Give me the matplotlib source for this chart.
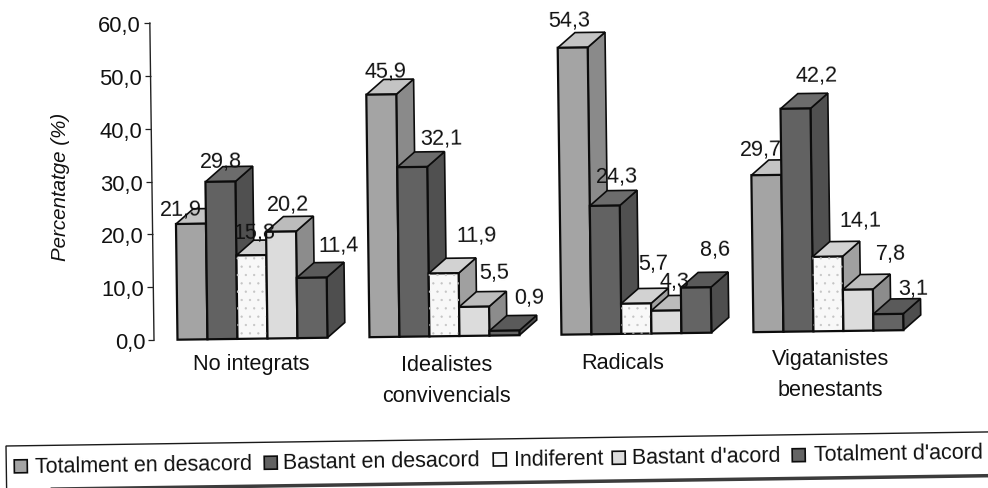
import matplotlib
matplotlib.use("Agg")
import matplotlib.pyplot as plt
from matplotlib.patches import Polygon, Rectangle
from matplotlib.transforms import Affine2D, IdentityTransform

plt.rcParams['font.family'] = ['Liberation Sans', 'DejaVu Sans']
plt.rcParams['hatch.linewidth'] = 0.4

groups = ["No integrats", "Idealistes\nconvivencials", "Radicals", "Vigatanistes\nbenestants"]
series = ["Totalment en desacord", "Bastant en desacord", "Indiferent", "Bastant d'acord", "Totalment d'acord"]
totalment_desacord = [21.9, 45.9, 54.3, 29.7]
bastant_desacord = [29.8, 32.1, 24.3, 42.2]
indiferent = [15.8, 11.9, 5.7, 14.1]
bastant_acord = [20.2, 5.5, 4.3, 7.8]
totalment_acord = [11.4, 0.9, 8.6, 3.1]
values = [totalment_desacord, bastant_desacord, indiferent, bastant_acord, totalment_acord]
y_ticks = [0, 10, 20, 30, 40, 50, 60]

front = ['#a4a4a4', '#626262', '#f8f8f8', '#dcdcdc', '#646464']
top = ['#c4c4c4', '#6c6c6c', '#d2d2d2', '#bcbcbc', '#5a5a5a']
side = ['#8a8a8a', '#505050', '#a0a0a0', '#8c8c8c', '#4e4e4e']
edge = '#0c0c0c'
txt = '#111111'

# value label offsets in pixels from the centre of each bar's front top edge
label_off = [
    [(-10, 15), (4, 23), (-4, 27), (-5, 26)],
    [(0, 20), (29, 29), (12, 29), (21, 33)],
    [(3, 23), (33, 38), (17, 40), (33, 36)],
    [(7, 27), (20, 34), (8, 29), (33, 36)],
    [(27, 32), (25, 33), (19, 38), (25, 26)],
]
group_label_nudge = [(-1, -2), (1.5, -5), (-13.5, -6), (1.5, -4)]

W, H = 988, 489
fig = plt.figure(figsize=(W / 100, H / 100), dpi=100)
px_l, px_r, px_top, px_bot = 154, 960, 24, 341
ax = fig.add_axes([px_l / W, 1 - px_bot / H, (px_r - px_l) / W, (px_bot - px_top) / H])
ax.set_xlim(-0.513, 3.685)
ax.set_ylim(0, 60)
ax.patch.set_visible(False)

# the page was scanned slightly skewed
tilt = 0.75
rot = Affine2D().rotate_deg_around(px_l, H - px_bot, tilt)
tr = ax.transData + rot

bw = 30 / 192
dx = 17.5 / 192
dy = 15 / 5.283

for j, vals in enumerate(values):
    for i, v in enumerate(vals):
        x0 = i + (j - 2.5) * bw
        x1 = x0 + bw
        z = 3 + j * 0.1 + i
        ax.bar(x0, v, width=bw, align='edge', color=front[j], edgecolor=edge, linewidth=1.6,
               transform=tr, zorder=z + 0.02, clip_on=False)
        if j == 2:
            ax.bar(x0, v, width=bw, align='edge', fill=False, edgecolor='#c4c4c4', linewidth=0,
                   hatch='..', transform=tr, zorder=z + 0.03, clip_on=False)
        ax.add_patch(Polygon([(x0, v), (x0 + dx, v + dy), (x1 + dx, v + dy), (x1, v)], closed=True,
                             fc=top[j], ec=edge, lw=1.2, transform=tr, zorder=z + 0.01, clip_on=False))
        ax.add_patch(Polygon([(x1, 0), (x1 + dx, dy), (x1 + dx, v + dy), (x1, v)], closed=True,
                             fc=side[j], ec=edge, lw=1.2, transform=tr, zorder=z, clip_on=False))
        ox, oy = label_off[j][i]
        ax.annotate(f"{v:.1f}".replace('.', ','), (x0 + bw / 2, v), xycoords=tr,
                    xytext=(ox, oy), textcoords='offset pixels', ha='center', va='center',
                    rotation=tilt, rotation_mode='anchor', fontsize=15.6, color=txt, zorder=50,
                    annotation_clip=False)

for s in ['top', 'right', 'bottom']:
    ax.spines[s].set_visible(False)
ax.spines['left'].set_transform(ax.spines['left'].get_transform() + rot)
ax.spines['left'].set_linewidth(1.0)
ax.spines['left'].set_color('#222222')

ax.set_yticks(y_ticks)
ax.set_yticklabels([f"{t:.1f}".replace('.', ',') for t in y_ticks])
ax.tick_params(axis='y', length=4.3, width=0.9, color='#222222', pad=2, labelsize=15.8, labelcolor=txt)
for tick in ax.yaxis.get_major_ticks():
    tick.tick1line.set_transform(tick.tick1line.get_transform() + rot)
    tick.label1.set_transform(tick.label1.get_transform() + rot)

ax.set_xticks(range(len(groups)))
ax.set_xticklabels(groups, linespacing=1.62)
ax.tick_params(axis='x', length=0, pad=9, labelsize=15.6, labelcolor=txt)
for i, tick in enumerate(ax.xaxis.get_major_ticks()):
    tick.label1.set_transform(tick.label1.get_transform() + rot + Affine2D().translate(*group_label_nudge[i]))

ax.set_ylabel("Percentatge (%)", fontsize=14.8, style='italic', color=txt)
ax.yaxis.set_label_coords(70, H - 187, transform=IdentityTransform())

# legend, drawn by hand because the box is skewed with the page
ltilt = 0.82
lt = Affine2D().scale(1, -1).translate(0, H).rotate_deg_around(6, H - 447, ltilt)
fig.add_artist(Rectangle((6, 447), 1040, 44, fc='white', ec='#1a1a1a', lw=1.0, transform=lt, zorder=1))
fig.add_artist(Rectangle((50, 489), 1000, 3.5, fc='#3c3c3c', ec='none', transform=lt, zorder=2))
swatch_x = [14, 264, 493, 612, 792]
text_x = [35, 283, 514, 632, 814]
for j, name in enumerate(series):
    fig.add_artist(Rectangle((swatch_x[j], 461), 13, 13, fc=front[j], ec=edge, lw=1.2, transform=lt, zorder=3))
    fig.text(text_x[j], 467.5, name, transform=lt, ha='left', va='center', fontsize=15.5, color=txt,
             rotation=ltilt, rotation_mode='anchor', zorder=3)

fig.savefig("out.png", dpi=100)
